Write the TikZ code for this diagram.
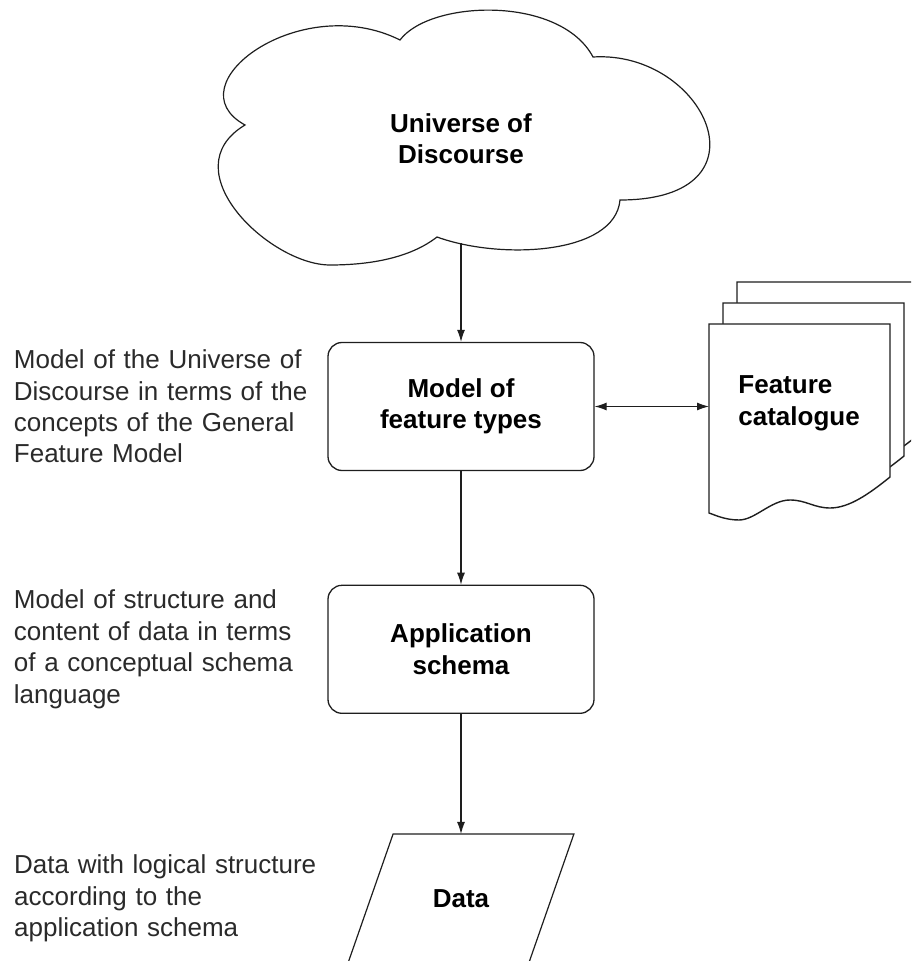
\documentclass[tikz,border=0pt]{standalone}
\usepackage{fontspec}
\setmainfont{Liberation Sans}
\usepackage{xcolor}
\definecolor{mainDark}{HTML}{1E1E1E}
\definecolor{noteGrey}{HTML}{2A2A2A}
\usepackage{tikz}
\usetikzlibrary{shapes,arrows,positioning,calc,arrows.meta,shapes.misc}
\tikzset{%
  processBox/.style={%
    rectangle,
    rounded corners=7pt,
    draw=mainDark,
    line width=0.65pt,
    fill=white,
    minimum width=133pt,
    minimum height=64pt,
    align=center,
    font=\fontsize{13}{15.7}\selectfont\bfseries
  },
  arrowLine/.style={%
    -{Latex[length=6pt,width=4pt]},
    line width=0.55pt,
    color=mainDark
  },
  bothArrow/.style={%
    {Latex[length=6pt,width=4pt]}-{Latex[length=6pt,width=4pt]},
    line width=0.55pt,
    color=mainDark
  },
  cloudLine/.style={%
    draw=mainDark,
    line width=0.6pt,
    fill=white
  },
  uodText/.style={%
    rectangle,
    minimum width=120pt,
    minimum height=104pt,
    align=center,
    font=\fontsize{13}{15.7}\selectfont\bfseries
  },
  dataBox/.style={%
    rectangle,
    minimum width=90pt,
    minimum height=64pt,
    align=center,
    font=\fontsize{13}{15.7}\selectfont\bfseries
  },
  dataEdge/.style={%
    draw=mainDark,
    line width=0.6pt
  },
  catText/.style={%
    rectangle,
    minimum width=90.5pt,
    minimum height=79pt,
    text width=61.5pt,
    inner xsep=14.5pt,
    align=left,
    font=\fontsize{13}{15.7}\selectfont\bfseries
  },
  noteText/.style={%
    text width=152pt,
    inner sep=0pt,
    align=left,
    text=noteGrey,
    font=\fontsize{13}{15.7}\selectfont
  },
  docPage/.pic={%
    \draw[fill=white, line width=0.7pt, draw=mainDark]
      (0,0) -- (181,0) -- (181,153)
      .. controls (160,170) and (140,184) .. (121,184)
      .. controls (105,184) and (97,176) .. (81,176)
      .. controls (62,176) and (46,196) .. (30,196)
      .. controls (16,196) and (6,191) .. (0,189) -- cycle;
  }
}

\begin{document}
\begin{tikzpicture}[x=0.5pt, y=-0.5pt]
  \clip (0,0) rectangle (911,961);

  % the cloud
  \path[cloudLine] (245,125)
    .. controls (172,85) and (300,-10) .. (400,40)
    .. controls (430,0) and (560,-5) .. (593,57)
    .. controls (705,50) and (775,200) .. (620,200)
    .. controls (615,255) and (500,260) .. (437,237)
    .. controls (410,258) and (370,265) .. (330,265)
    .. controls (270,265) and (170,170) .. (245,125) -- cycle;
  \node[uodText] (uod) at (461,139) {Universe of\\Discourse};

  \node[processBox] (model) at (461,406.5) {Model of\\feature types};
  \node[processBox, below=56.75pt of model] (appschema) {Application\\schema};
  \node[dataBox, below=60pt of appschema] (data) {Data};
  \draw[dataEdge] ([xshift=11.25pt]data.north west) -- ([xshift=11.25pt]data.north east)
    -- ([xshift=-11.25pt]data.south east) -- ([xshift=-11.25pt]data.south west) -- cycle;

  % stacked pages of the catalogue
  \coordinate (catCorner) at (709,324);
  \foreach \dx/\dy in {28/-42, 14/-21, 0/0}
    \pic at ($(catCorner)+(\dx,\dy)$) {docPage};
  \node[catText, anchor=north west] (catalogue) at (catCorner) {Feature\\catalogue};

  \node[noteText, left=4.5pt of model] (noteModel) {Model of the Universe of\\Discourse in terms of the\\concepts of the General\\Feature Model};
  \node[noteText, left=4.5pt of appschema] (noteSchema) {Model of structure and\\content of data in terms\\of a conceptual schema\\language};
  \node[noteText, left=26pt of data] (noteData) {Data with logical structure\\according to the\\application schema};

  \draw[arrowLine] (uod) -- (model);
  \draw[arrowLine] (model) -- (appschema);
  \draw[arrowLine] (appschema) -- (data);
  \draw[bothArrow] (model.east) -- (model.east -| catalogue.west);
\end{tikzpicture}
\end{document}
